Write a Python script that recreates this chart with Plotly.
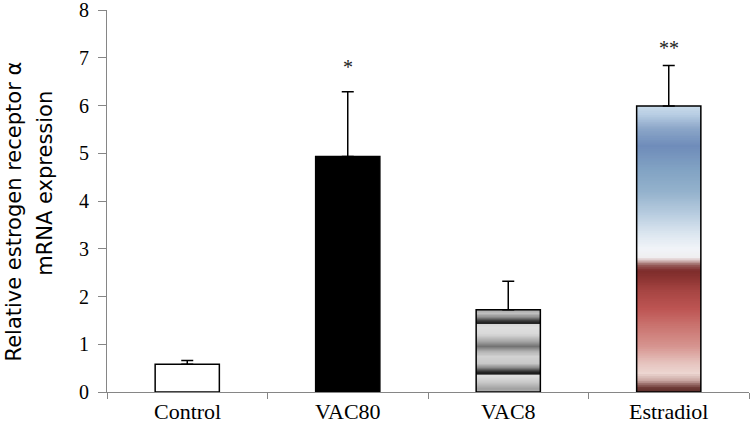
import plotly.graph_objects as go

# ---- data ----
categories = ["Control", "VAC80", "VAC8", "Estradiol"]
means = [0.58, 4.93, 1.72, 5.99]
errors = [0.08, 1.36, 0.60, 0.85]
sig_labels = ["", "*", "", "**"]
sig_y = [None, 6.87, None, 7.27]
y_ticks = [0, 1, 2, 3, 4, 5, 6, 7, 8]
y_title_lines = ["Relative estrogen receptor α", "mRNA expression"]

# ---- styling: gradient stops (fraction of bar height, colour), bottom -> top ----
vac8_stops = [
    (0.00, "#b4b4b4"), (0.04, "#a0a0a0"), (0.125, "#c8c8c8"), (0.19, "#dcdcdc"),
    (0.215, "#e0e0e0"), (0.225, "#2a2a2a"), (0.235, "#1c1c1c"), (0.258, "#3a3a3a"),
    (0.30, "#8a8a8a"), (0.354, "#c8c8c8"), (0.44, "#d2d2d2"), (0.50, "#b0b0b0"),
    (0.56, "#727272"), (0.625, "#a8a8a8"), (0.71, "#d8d8d8"), (0.79, "#e0e0e0"),
    (0.83, "#d8d8d8"), (0.838, "#2a2a2a"), (0.845, "#1e1e1e"), (0.875, "#3c3c3c"),
    (0.917, "#8a8a8a"), (0.958, "#c0c0c0"), (0.99, "#b0b0b0"), (1.00, "#a0a0a0"),
]
estr_stops = [
    (0.00, "#5e302c"), (0.015, "#6e3a36"), (0.04, "#c9a7a2"), (0.065, "#ecd6d1"),
    (0.10, "#e6c4bf"), (0.16, "#d6948f"), (0.23, "#ca7470"), (0.29, "#bd5553"),
    (0.35, "#a84644"), (0.40, "#8a3331"), (0.425, "#7d2c2b"), (0.445, "#9a6462"),
    (0.46, "#d8c0bf"), (0.47, "#f0eef0"), (0.50, "#f1f4f8"), (0.55, "#dde7f0"),
    (0.62, "#b9cde0"), (0.70, "#94b2cc"), (0.78, "#81a2c3"), (0.86, "#6f8cba"),
    (0.92, "#8ba6c8"), (0.97, "#b8cde3"), (1.00, "#c9dbeb"),
]
gradients = {"VAC8": vac8_stops, "Estradiol": estr_stops}
fills = {"Control": "white", "VAC80": "black"}


def hex2rgb(h):
    h = h.lstrip("#")
    return tuple(int(h[i:i + 2], 16) for i in (0, 2, 4))


def interp(stops, f):
    for (f0, c0), (f1, c1) in zip(stops[:-1], stops[1:]):
        if f0 <= f <= f1:
            t = 0 if f1 == f0 else (f - f0) / (f1 - f0)
            a, b = hex2rgb(c0), hex2rgb(c1)
            r = [round(a[k] + (b[k] - a[k]) * t) for k in range(3)]
            return "rgb(%d,%d,%d)" % tuple(r)
    return stops[-1][1]


N = 160
gx, gbase, gy, gcol = [], [], [], []
for cat, val in zip(categories, means):
    if cat not in gradients:
        continue
    h = val / N
    for i in range(N):
        gx.append(cat)
        gbase.append(i * h)
        gy.append(min(h * 1.6, val - i * h))
        gcol.append(interp(gradients[cat], (i + 0.5) / N))

fig = go.Figure()
fig.add_trace(go.Bar(
    x=gx, y=gy, base=gbase,
    marker=dict(color=gcol, line=dict(width=0)),
    hoverinfo="skip", showlegend=False,
))
fig.add_trace(go.Bar(
    x=categories, y=means,
    marker=dict(color=[fills.get(c, "rgba(0,0,0,0)") for c in categories],
                line=dict(color="black", width=1.5)),
    error_y=dict(type="data", array=errors, arrayminus=[0] * len(errors),
                 symmetric=False, color="black", thickness=1.5, width=6),
    showlegend=False,
))

for cat, lab, yy in zip(categories, sig_labels, sig_y):
    if lab:
        fig.add_annotation(x=cat, y=yy, text=lab, showarrow=False,
                           font=dict(family="Liberation Serif", size=20, color="#222"),
                           yanchor="middle", yshift=-3)

# x category labels (placed as in the reference)
for cat in categories:
    fig.add_annotation(x=cat, y=0, yref="paper", text=cat, showarrow=False,
                       yanchor="top", yshift=-5,
                       font=dict(family="Liberation Serif", size=22, color="black"))

# two-line y title with wide line spacing
for line, px, py in zip(y_title_lines, [-0.1464, -0.096], [0.4725, 0.546]):
    fig.add_annotation(
        xref="paper", yref="paper", x=px, y=py, text=line,
        xanchor="center", yanchor="middle",
        textangle=-90, showarrow=False,
        font=dict(family="DejaVu Sans", size=21, color="black"),
    )

fig.update_layout(
    width=751, height=431,
    margin=dict(l=107, r=2, t=10, b=39, autoexpand=False),
    paper_bgcolor="white", plot_bgcolor="white",
    barmode="overlay", bargap=0.6,
    xaxis=dict(
        categoryorder="array", categoryarray=categories, automargin=False,
        tickson="boundaries", ticks="outside", ticklen=6, tickcolor="#868686",
        showline=True, linecolor="#868686", linewidth=1.2,
        showticklabels=False, showgrid=False,
    ),
    yaxis=dict(
        range=[0, 8], tickvals=y_ticks, ticks="outside", ticklen=8, automargin=False,
        tickcolor="#868686", showline=True, linecolor="#868686", linewidth=1.2,
        tickfont=dict(family="Liberation Serif", size=20, color="black"),
        ticklabelstandoff=5, ticklabeloverflow="allow",
        showgrid=False, zeroline=False,
    ),
)

fig.write_html("out.html", config={"displayModeBar": False},
               post_script="document.body.style.margin='0';document.body.style.padding='0';")
